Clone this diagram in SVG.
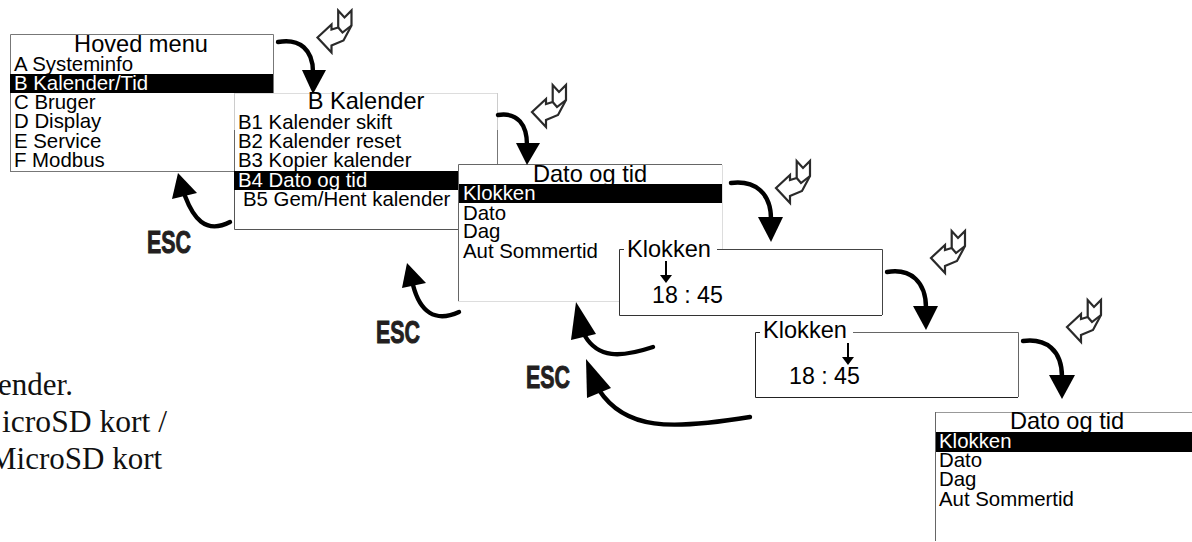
<svg xmlns="http://www.w3.org/2000/svg" width="1192" height="542" viewBox="0 0 1192 542">
<style>
text{font-family:"Liberation Sans",Arial,sans-serif;fill:#000}
.t{font-size:23.6px}
.c{text-anchor:middle}
.i{font-size:20.4px}
.w{fill:#fff}
.n{font-size:23.2px}
.esc{font-size:32px;font-weight:700;fill:#231f20;stroke:#231f20;stroke-width:1}
.note{font-family:"Liberation Serif","Times New Roman",serif;font-size:31px;fill:#111}
.bg{fill:#fff;stroke:none}
.e{fill:none;stroke-width:1}
.curve{fill:none;stroke:#000;stroke-width:4.400;stroke-linecap:round}
.ret{fill:#fff;stroke:#2a2a2a;stroke-width:2.200;stroke-linejoin:miter}
</style>
<defs>
<g id="ret"><path class="ret" d="M0 0L14-13V-8L20.700-10V-27L27-20L34-27V-12L26 3L14 8V15Z"/><path class="ret" style="fill:none" d="M20.700-10L25-5L34-12"/></g>
</defs>
<g id="note">
<text class="note" x="-2" y="395">ender.</text>
<text class="note" x="2" y="432" textLength="165" lengthAdjust="spacingAndGlyphs">icroSD kort /</text>
<text class="note" x="-11" y="469">MicroSD kort</text>
</g>
<g id="hoved-menu">
<rect class="bg" x="10" y="34" width="263" height="137"/>
<path class="e" stroke="#777" d="M10.500 171V34.500H273.500V93M10 171.500H234"/>
<text class="t c" x="141" y="52">Hoved menu</text>
<text class="i" x="14" y="70.500">A Systeminfo</text>
<rect x="10" y="74" width="263" height="19" fill="#000"/>
<text class="i w" x="14" y="90">B Kalender/Tid</text>
<text class="i" x="14" y="109">C Bruger</text>
<text class="i" x="14" y="128">D Display</text>
<text class="i" x="14" y="148">E Service</text>
<text class="i" x="14" y="167">F Modbus</text>
</g>
<g id="b-kalender">
<rect class="bg" x="234" y="93" width="263" height="136"/>
<path class="e" stroke="#ddd" d="M234 93.500H497"/>
<path class="e" stroke="#777" d="M497.500 130V165"/>
<path class="e" stroke="#ccc" d="M497.500 93V130M234.500 93V130"/>
<path class="e" stroke="#666" d="M234.500 130V171"/>
<path class="e" stroke="#555" d="M234.500 190V229.500H458"/>
<text class="t c" x="366" y="109">B Kalender</text>
<text class="i" x="238" y="128.500">B1 Kalender skift</text>
<text class="i" x="238" y="148">B2 Kalender reset</text>
<text class="i" x="238" y="167">B3 Kopier kalender</text>
<rect x="234" y="171" width="224" height="19" fill="#000"/>
<text class="i w" x="238" y="186.500">B4 Dato og tid</text>
<text class="i" x="243" y="206">B5 Gem/Hent kalender</text>
</g>
<g id="dato-og-tid">
<rect class="bg" x="458" y="164" width="264" height="137"/>
<path class="e" stroke="#666" d="M722 164.500H458.500V301"/>
<path class="e" stroke="#ddd" d="M458 301.500H619M722.500 165V249"/>
<text class="t c" x="590" y="181.500">Dato og tid</text>
<rect x="459" y="184" width="263" height="19" fill="#000"/>
<text class="i w" x="463" y="200">Klokken</text>
<text class="i" x="463" y="220">Dato</text>
<text class="i" x="463" y="238">Dag</text>
<text class="i" x="463" y="258">Aut Sommertid</text>
</g>
<g id="klokken-1">
<rect class="bg" x="619" y="249" width="263" height="66"/>
<path class="e" stroke="#333" d="M624 249.500H619.500V315.500H882"/>
<path class="e" stroke="#444" d="M717 249.500H882.500V315"/>
<text class="t" x="627" y="256.500">Klokken</text>
<path d="M665 261h2v14h5l-6 8l-6-8h5z" fill="#000"/>
<text class="n" x="652" y="302.500">18 : 45</text>
</g>
<g id="klokken-2">
<rect class="bg" x="755" y="332" width="263" height="65"/>
<path class="e" stroke="#222" d="M760 332.500H755.500V397.500H1018"/>
<path class="e" stroke="#666" d="M853 332.500H1018.500V397"/>
<text class="t" x="763" y="338">Klokken</text>
<path d="M847 343h2v14h5l-6 8l-6-8h5z" fill="#000"/>
<text class="n" x="789" y="384">18 : 45</text>
</g>
<g id="dato-og-tid-2">
<rect class="bg" x="935" y="412" width="257" height="129"/>
<path class="e" stroke="#999" d="M1192 412.500H935"/>
<path class="e" stroke="#666" d="M935.500 412V541"/>
<text class="t c" x="1067" y="429">Dato og tid</text>
<rect x="936" y="432" width="256" height="20" fill="#000"/>
<text class="i w" x="939" y="447.500">Klokken</text>
<text class="i" x="939" y="467">Dato</text>
<text class="i" x="939" y="486">Dag</text>
<text class="i" x="939" y="506">Aut Sommertid</text>
</g>
<g id="return-keys">
<use href="#ret" x="317.500" y="37.500"/>
<use href="#ret" x="532" y="112"/>
<use href="#ret" x="776" y="188"/>
<use href="#ret" x="931" y="258"/>
<use href="#ret" x="1067" y="327"/>
</g>
<g id="esc-labels">
<text class="esc" x="147" y="253" textLength="44" lengthAdjust="spacingAndGlyphs">ESC</text>
<text class="esc" x="376" y="343" textLength="44" lengthAdjust="spacingAndGlyphs">ESC</text>
<text class="esc" x="526" y="388" textLength="44" lengthAdjust="spacingAndGlyphs">ESC</text>
</g>
<g id="connectors">
<path class="curve" d="M278 42C300 38 313 50 313 72"/><path d="M302 70H326L313 94Z"/>
<path class="curve" d="M498 115C518 112 527 125 527 145"/><path d="M516 143H540L527 165Z"/>
<path class="curve" d="M731 183C755 180 771 193 771 219"/><path d="M758 217H783L771 242Z"/>
<path class="curve" d="M887 272C911 268 926 282 926 308"/><path d="M913 306H938L926 330Z"/>
<path class="curve" d="M1023 341C1046 338 1062 350 1062 377"/><path d="M1049 375H1075L1062 399Z"/>
<path class="curve" d="M230 222C205 235 193 217 185 196"/><path d="M178 173L172 199L197 193Z"/>
<path class="curve" d="M459 312C435 323 420 312 413 285"/><path d="M407 263L402 288L426 283Z"/>
<path class="curve" d="M653 347C620 358 598 358 585 336"/><path d="M576 302L571 340L596 334Z"/>
<path class="curve" d="M750 417C670 430 625 430 599 390"/><path d="M586 359L587 398L611 388Z"/>
</g>
</svg>
